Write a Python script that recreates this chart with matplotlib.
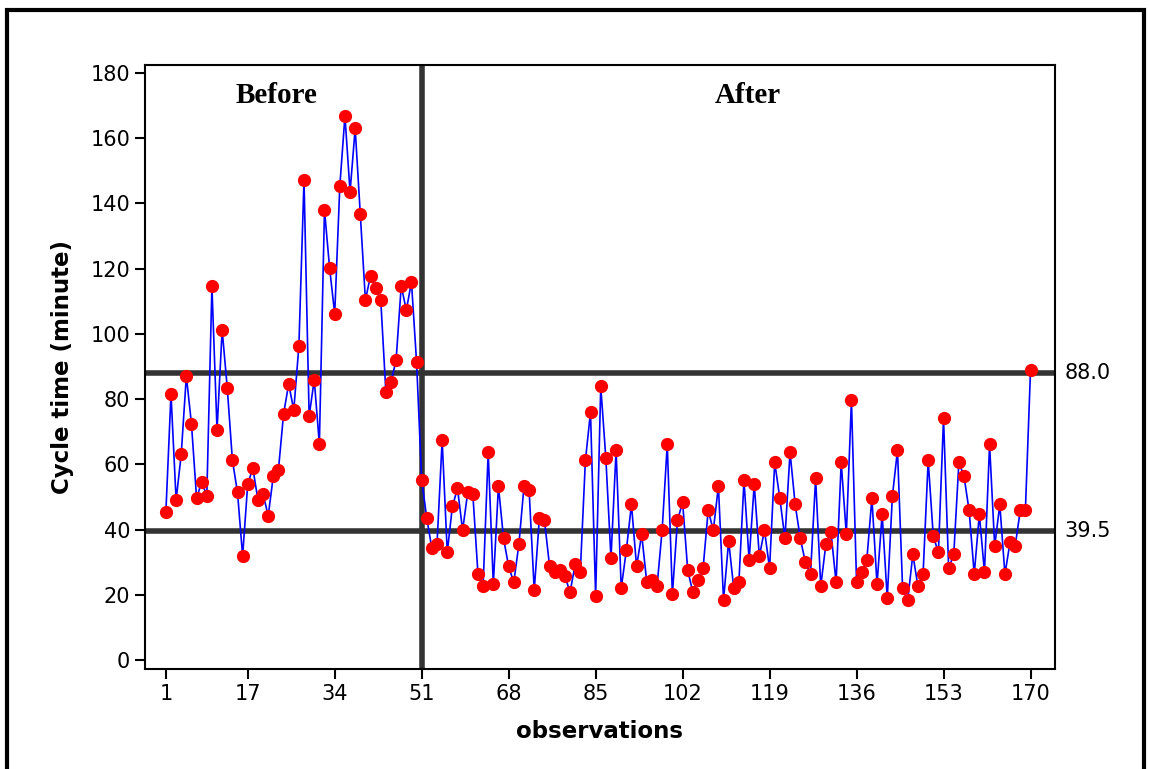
import numpy as np
import matplotlib
matplotlib.use("Agg")
import matplotlib.pyplot as plt
from matplotlib.patches import Rectangle
import matplotlib.transforms as mtransforms

cycle_time = [
    45.3, 81.6, 49.0, 63.1, 87.1, 72.4, 49.7, 54.5, 50.3, 114.6,
    70.5, 101.2, 83.4, 61.3, 51.4, 31.9, 54.0, 58.8, 49.1, 50.9,
    44.2, 56.4, 58.3, 75.4, 84.6, 76.7, 96.3, 147.2, 74.8, 85.9,
    66.2, 138.0, 120.2, 106.1, 145.4, 166.8, 143.5, 163.0, 136.8, 110.4,
    117.8, 114.1, 110.4, 82.2, 85.2, 92.0, 114.7, 107.3, 115.9, 91.4,
    55.2, 43.4, 34.2, 35.6, 67.4, 33.0, 47.1, 52.6, 39.8, 51.4,
    50.8, 26.4, 22.6, 63.7, 23.2, 53.3, 37.3, 28.7, 23.8, 35.5,
    53.3, 52.0, 21.4, 43.4, 42.8, 28.7, 26.9, 27.5, 25.7, 20.8,
    29.3, 26.9, 61.2, 76.0, 19.5, 83.9, 61.8, 31.2, 64.3, 22.0,
    33.6, 47.7, 28.7, 38.5, 23.8, 24.4, 22.6, 39.8, 66.1, 20.1,
    42.8, 48.4, 27.5, 20.8, 24.4, 28.1, 45.9, 39.8, 53.3, 18.3,
    36.5, 22.0, 23.8, 55.1, 30.6, 53.9, 31.8, 39.8, 28.1, 60.6,
    49.6, 37.3, 63.7, 47.7, 37.3, 30.0, 26.3, 55.7, 22.6, 35.5,
    39.2, 23.8, 60.6, 38.5, 79.6, 23.8, 26.9, 30.6, 49.6, 23.2,
    44.7, 18.9, 50.2, 64.3, 22.0, 18.3, 32.4, 22.6, 26.3, 61.2,
    37.9, 33.0, 74.1, 28.1, 32.4, 60.6, 56.3, 45.9, 26.3, 44.7,
    26.9, 66.1, 34.9, 47.7, 26.3, 36.1, 34.9, 45.9, 45.9, 88.8,
]
obs = np.arange(1, len(cycle_time) + 1)

x_ticks = [1, 17, 34, 51, 68, 85, 102, 119, 136, 153, 170]
y_ticks = list(range(0, 181, 20))
ref_levels = [88.0, 39.5]
split_obs = 51

plt.rcParams['font.family'] = ['DejaVu Sans']

fig = plt.figure(figsize=(11.5, 7.69), dpi=100)
ax = fig.add_axes([0.126, 0.130, 0.791, 0.7855])

# reference lines
for lvl in ref_levels:
    ax.axhline(lvl, color='#333333', lw=4, zorder=1)
ax.axvline(split_obs, color='#333333', lw=4, zorder=1)

ax.plot(obs, cycle_time, color='blue', lw=1.2, zorder=2)
ax.plot(obs, cycle_time, 'o', color='red', ms=8.5, mec='red', zorder=3)

ax.set_xlim(-3.1, 174.7)
ax.set_ylim(-2.76, 182.45)
ax.set_xticks(x_ticks)
ax.set_yticks(y_ticks)
ax.tick_params(direction='out', length=7, width=1.5, labelsize=15)
for s in ax.spines.values():
    s.set_linewidth(1.5)

ax.set_xlabel('observations', fontsize=16.5, fontweight='bold', labelpad=12)
ax.set_ylabel('Cycle time (minute)', fontsize=16.5, fontweight='bold', labelpad=12)

ax.text(22.7, 173, 'Before', family='Liberation Serif', fontweight='bold',
        fontsize=21, ha='center', va='center')
ax.text(114.7, 173, 'After', family='Liberation Serif', fontweight='bold',
        fontsize=21, ha='center', va='center')

trans = mtransforms.blended_transform_factory(ax.transAxes, ax.transData)
for lvl in ref_levels:
    ax.text(1.011, lvl, f'{lvl:.1f}', transform=trans, fontsize=15,
            ha='left', va='center', clip_on=False)

# outer frame
fig.patches.append(Rectangle((0.0065, -0.05), 0.988, 1.037, transform=fig.transFigure,
                             fill=False, lw=3, ec='black'))

fig.savefig('out.png', dpi=100)
